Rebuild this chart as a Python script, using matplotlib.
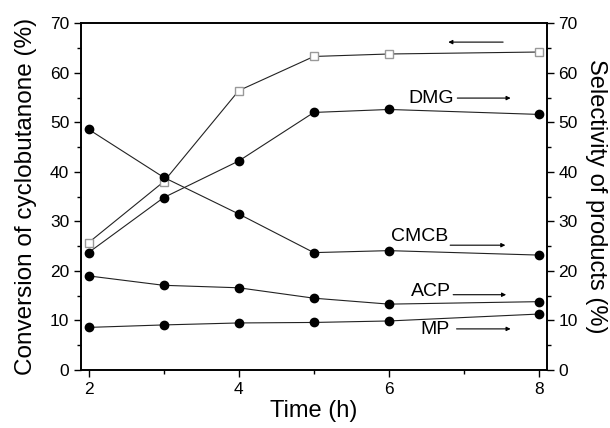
import matplotlib
matplotlib.use("Agg")
import matplotlib.pyplot as plt
from matplotlib.ticker import MultipleLocator

plt.rcParams['font.family'] = ['Liberation Sans', 'DejaVu Sans']

time_h = [2, 3, 4, 5, 6, 8]
conversion = [25.7, 38.0, 56.4, 63.3, 63.8, 64.2]
dmg = [23.7, 34.8, 42.2, 52.0, 52.6, 51.6]
cmcb = [48.6, 38.9, 31.5, 23.7, 24.1, 23.2]
acp = [19.0, 17.1, 16.6, 14.5, 13.3, 13.8]
mp = [8.6, 9.1, 9.5, 9.6, 9.9, 11.3]

fig = plt.figure(figsize=(6.10, 4.28), dpi=100)
ax = fig.add_axes([0.1328, 0.1355, 0.7634, 0.8101])
ax2 = ax.twinx()

ax.plot(time_h, conversion, color='#222222', lw=0.8, marker='s', ms=5.5,
        mfc='white', mec='#999999', mew=1.0, zorder=3)
for s in (dmg, cmcb, acp, mp):
    ax2.plot(time_h, s, color='#222222', lw=0.8, marker='o', ms=6,
             mfc='black', mec='black', zorder=3)

for a in (ax, ax2):
    a.set_xlim(1.9, 8.1)
    a.set_ylim(0, 70)
    a.yaxis.set_major_locator(MultipleLocator(10))
    a.yaxis.set_minor_locator(MultipleLocator(5))
    a.tick_params(which='major', length=5, width=1, labelsize=12.5, direction='out')
    a.tick_params(which='minor', length=3, width=1, direction='out')
    for sp in a.spines.values():
        sp.set_linewidth(1.2)
ax.xaxis.set_major_locator(MultipleLocator(2))
ax.xaxis.set_minor_locator(MultipleLocator(1))
ax.tick_params(axis='x', top=False, which='both')

ax.set_xlabel('Time (h)', fontsize=17, labelpad=2)
ax.set_ylabel('Conversion of cyclobutanone (%)', fontsize=17.5, labelpad=9)
ax2.set_ylabel('Selectivity of products (%)', fontsize=17, rotation=-90, labelpad=21)

ap = dict(arrowstyle='-|>', color='black', lw=0.8, mutation_scale=6, shrinkA=0, shrinkB=0)

def ann(text, tx, ty, x0, x1, ya):
    ax2.annotate('', xy=(x1, ya), xytext=(x0, ya), arrowprops=ap)
    if text:
        ax2.text(tx, ty, text, fontsize=14, ha='right', va='center')

# conversion arrow (pointing left)
ann('', 0, 0, 7.52, 6.79, 66.2)
ann('DMG', 6.87, 54.9, 6.91, 7.62, 54.9)
ann('CMCB', 6.79, 27.0, 6.815, 7.55, 25.2)
ann('ACP', 6.83, 15.8, 6.855, 7.56, 15.2)
ann('MP', 6.81, 8.1, 6.9, 7.62, 8.3)

fig.savefig('out.png', dpi=100)
